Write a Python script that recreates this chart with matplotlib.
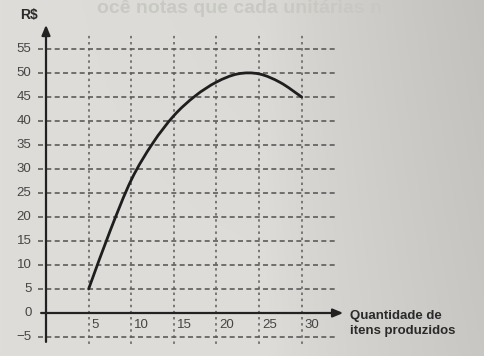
import numpy as np
import matplotlib
matplotlib.use("Agg")
import matplotlib.pyplot as plt
from matplotlib.path import Path
from matplotlib.patches import PathPatch

# curve: quantity of items vs value in R$
qtd = [5, 7.5, 10, 12.5, 15, 17.5, 20, 22.5, 25, 27.5, 30]
valor = [5, 17, 27.7, 35.3, 41.1, 45.2, 48.1, 49.8, 49.8, 48.0, 45.0]

x_ticks = [5, 10, 15, 20, 25, 30]
y_ticks = [-5, 0, 5, 10, 15, 20, 25, 30, 35, 40, 45, 50, 55]

plt.rcParams['font.family'] = ['Liberation Sans', 'DejaVu Sans']


def smooth_path(xs, ys):
    # Catmull-Rom through the points, drawn as cubic Bezier segments
    p = np.column_stack([xs, ys]).astype(float)
    p = np.vstack([2 * p[0] - p[1], p, 2 * p[-1] - p[-2]])
    verts = [p[1]]
    codes = [Path.MOVETO]
    for i in range(1, len(p) - 2):
        c1 = p[i] + (p[i + 1] - p[i - 1]) / 6.0
        c2 = p[i + 1] - (p[i + 2] - p[i]) / 6.0
        verts += [c1, c2, p[i + 1]]
        codes += [Path.CURVE4] * 3
    return Path(verts, codes)


fig = plt.figure(figsize=(4.85, 3.56), dpi=100)

# paper background, a bit darker towards the right
bg = fig.add_axes([0, 0, 1, 1], zorder=-10)
gx = np.linspace(0, 1, 200)
gy = np.linspace(0, 1, 150)
GX, GY = np.meshgrid(gx, gy)
shade = 222 - 22 * np.clip((GX - 0.55) / 0.45, 0, 1) ** 0.8 - 6 * GY * GX
img = np.dstack([shade, shade - 1, shade - 5]) / 255.0
bg.imshow(img, aspect='auto', extent=[0, 1, 0, 1], origin='lower')
bg.axis('off')
bg.text(0.2, 0.975, "ocê notas que cada unitárias n", transform=bg.transAxes,
        fontsize=14, fontweight='bold', color=(0.79, 0.79, 0.77), va='center', ha='left')

ax = fig.add_axes([0.0685, 0.0264, 0.659, 0.917])
ax.set_xlim(-1.5, 36)
ax.set_ylim(-7, 61)
ax.patch.set_alpha(0)
for s in ax.spines.values():
    s.set_visible(False)
ax.set_xticks([])
ax.set_yticks([])

grid_c = (0.36, 0.36, 0.36)
for yv in y_ticks:
    if yv == 0:
        continue
    ax.plot([-0.9, 33.9], [yv, yv], color=grid_c, lw=1.2, ls=(0, (3, 2.0)), zorder=1)
for xv in x_ticks:
    ax.plot([xv, xv], [-7.7, 58.3], color=grid_c, lw=1.1, ls=(0, (1.6, 2.4)), zorder=1)

# axes with arrows
ax.annotate('', xy=(0, 60.6), xytext=(0, -6.6),
            arrowprops=dict(arrowstyle='-|>,head_length=0.6,head_width=0.25', lw=1.6, color='#222222'))
ax.annotate('', xy=(35.2, 0), xytext=(-0.9, 0),
            arrowprops=dict(arrowstyle='-|>,head_length=0.6,head_width=0.25', lw=1.6, color='#222222'))

ax.add_patch(PathPatch(smooth_path(qtd, valor), fill=False, edgecolor='#1e1e1e',
                       lw=2.0, capstyle='round', zorder=3))

lab_c = (0.27, 0.27, 0.27)
for yv in y_ticks:
    ax.text(-1.7, yv, str(yv).replace('-', '\u2212'), ha='right', va='center', fontsize=9.5, color=lab_c)
for xv in x_ticks:
    ax.text(xv + 0.35, -2.4, str(xv), ha='left', va='center', fontsize=9.5, color=lab_c)

ax.text(-2.0, 62.0, "R$", ha='center', va='center', fontsize=10, fontweight='bold',
        color='#2a2a2a', clip_on=False)
ax.text(35.7, -2.1, "Quantidade de\nitens produzidos", ha='left', va='center', fontsize=9.5,
        fontweight='bold', color='#2a2a2a', linespacing=1.35, clip_on=False)

fig.savefig("out.png", dpi=100)
